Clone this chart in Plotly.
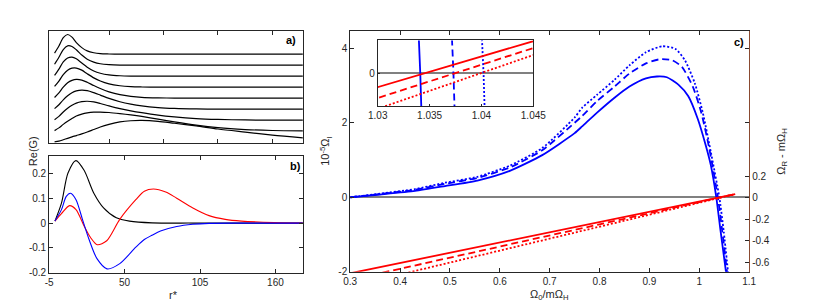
import plotly.graph_objects as go

# ---------------- data ----------------
# panel a: waterfall of G(r*) curves (heights above each baseline)
a_r = [0, 4, 8, 12, 16, 20, 25, 30, 36, 42, 50, 60, 70, 80, 95, 110, 130, 150, 175, 200, 228]
a_offsets = [8, 7, 6, 5, 4, 3, 2, 1, 0]
a_c1 = [0.10, 0.75, 1.50, 1.79, 1.55, 1.05, 0.60, 0.30, 0.13, 0.05, 0.02, 0, 0, 0, 0, 0, 0, 0, 0, 0, 0]
a_c2 = [0.09, 0.72, 1.42, 1.76, 1.70, 1.40, 0.92, 0.55, 0.28, 0.13, 0.05, 0.01, 0, 0, 0, 0, 0, 0, 0, 0, 0]
a_c3 = [0.08, 0.65, 1.30, 1.66, 1.74, 1.58, 1.20, 0.82, 0.48, 0.27, 0.12, 0.04, 0.01, 0, 0, 0, 0, 0, 0, 0, 0]
a_c4 = [0.07, 0.55, 1.15, 1.55, 1.73, 1.74, 1.55, 1.22, 0.85, 0.56, 0.30, 0.13, 0.05, 0.02, 0, 0, 0, 0, 0, 0, 0]
a_c5 = [0.06, 0.48, 1.00, 1.40, 1.62, 1.71, 1.65, 1.45, 1.15, 0.88, 0.58, 0.32, 0.17, 0.08, 0.03, 0.01, 0, 0, 0, 0, 0]
a_c6 = [0.05, 0.40, 0.85, 1.22, 1.50, 1.66, 1.73, 1.68, 1.50, 1.28, 0.98, 0.68, 0.46, 0.30, 0.15, 0.07, 0.02, 0, 0, 0, 0]
a_c7 = [0.05, 0.35, 0.75, 1.08, 1.35, 1.55, 1.68, 1.72, 1.66, 1.52, 1.30, 1.05, 0.85, 0.68, 0.46, 0.30, 0.15, 0.07, 0.02, 0, 0]
a_c8 = [0.05, 0.30, 0.62, 0.90, 1.15, 1.38, 1.55, 1.66, 1.73, 1.74, 1.70, 1.60, 1.48, 1.34, 1.10, 0.85, 0.55, 0.32, 0.15, 0.06, 0.02]
a_c9 = [0.03, 0.10, 0.22, 0.35, 0.48, 0.60, 0.75, 0.92, 1.15, 1.38, 1.62, 1.84, 1.95, 1.98, 1.90, 1.72, 1.48, 1.20, 0.92, 0.65, 0.40]
a_curves = [a_c1, a_c2, a_c3, a_c4, a_c5, a_c6, a_c7, a_c8, a_c9]

# panel b: Re(G) vs r*
b_black_r = [-0.75, 4, 8.7, 14.5, 20.5, 27.6, 34.7, 44, 53.6, 70, 100, 180]
b_black_g = [0.008, 0.08, 0.20, 0.251, 0.212, 0.12, 0.061, 0.021, 0.008, 0.001, 0.0, 0.0]
b_blue_r = [-0.75, 4, 7.5, 10.6, 14.6, 19.3, 24, 29.9, 37.2, 46.5, 58.2, 64.4, 70, 76.2, 88, 99.8, 111.6, 130, 180]
b_blue_g = [0.008, 0.054, 0.107, 0.12, 0.094, 0.015, -0.064, -0.143, -0.184, -0.163, -0.097, -0.066, -0.049, -0.032, -0.014, -0.005, -0.001, 0.0, 0.0]
b_red_r = [-0.75, 4, 9.9, 14.6, 20.5, 25.2, 30.1, 37, 46.5, 58.2, 64.4, 71, 80, 88, 99.8, 111.6, 123.4, 135.2, 158.8, 180]
b_red_g = [0.008, 0.038, 0.07, 0.054, -0.012, -0.058, -0.087, -0.071, 0.015, 0.094, 0.128, 0.137, 0.125, 0.10, 0.061, 0.030, 0.015, 0.008, 0.002, 0.0]

# panel c: 1e-5 Omega_I (blue, left axis) and Omega_R - m Omega_H (red, right axis)
c_solid_x = [0.30, 0.36, 0.43, 0.49, 0.555, 0.62, 0.685, 0.75, 0.765, 0.795, 0.83, 0.86, 0.893, 0.915, 0.935, 0.958, 0.978, 0.997, 1.013, 1.023, 1.0341, 1.0425, 1.054]
c_solid_i = [0.0, 0.075, 0.17, 0.30, 0.45, 0.71, 1.13, 1.72, 1.90, 2.27, 2.67, 2.97, 3.19, 3.24, 3.22, 3.02, 2.71, 2.10, 1.39, 0.87, 0.0, -0.89, -2.05]
c_dash_x = [0.30, 0.36, 0.43, 0.49, 0.555, 0.62, 0.685, 0.75, 0.765, 0.795, 0.83, 0.86, 0.893, 0.92, 0.945, 0.965, 0.987, 1.004, 1.02, 1.0373, 1.046, 1.056]
c_dash_i = [0.0, 0.09, 0.20, 0.36, 0.52, 0.80, 1.26, 2.00, 2.18, 2.58, 2.97, 3.32, 3.59, 3.70, 3.68, 3.50, 2.97, 2.27, 1.31, 0.0, -0.90, -2.05]
c_dot_x = [0.30, 0.36, 0.43, 0.49, 0.555, 0.62, 0.685, 0.75, 0.765, 0.795, 0.83, 0.86, 0.893, 0.926, 0.952, 0.971, 0.991, 1.007, 1.023, 1.0402, 1.049, 1.058]
c_dot_i = [0.0, 0.10, 0.22, 0.39, 0.55, 0.85, 1.32, 2.14, 2.40, 2.75, 3.15, 3.54, 3.89, 4.05, 3.98, 3.68, 3.06, 2.27, 1.22, 0.0, -0.92, -2.05]
c_red_x = [0.30, 1.072]
c_red_solid = [-0.705, 0.036]
c_red_dash = [-0.767, 0.036]
c_red_dot = [-0.829, 0.036]

b_xticks = [-5, 50, 105, 160]
b_yticks = [-0.2, -0.1, 0, 0.1, 0.2]
c_xticks = [0.3, 0.4, 0.5, 0.6, 0.7, 0.8, 0.9, 1.0, 1.1]
c_yticks = [-2, 0, 2, 4]
c_y2ticks = [-0.6, -0.4, -0.2, 0, 0.2]
inset_xticks = [1.03, 1.035, 1.04, 1.045]


def lab(v):
    return "%g" % v


BLUE = "#0000ff"
RED = "#ff0000"
AX = "#262626"
FONT = "Liberation Sans, Arial, sans-serif"
W, H = 830, 302
DASH = "7px,4px"
DOT = "2px,2px"


def px(x):
    return x / W


def py(y):
    return 1 - y / H


fig = go.Figure()

# panel a
for off, hts in zip(a_offsets, a_curves):
    fig.add_trace(go.Scatter(x=a_r, y=[off + h for h in hts], mode="lines",
                             line=dict(color="black", width=1.2, shape="spline", smoothing=0.8),
                             xaxis="x", yaxis="y", showlegend=False, hoverinfo="skip"))

# panel b
for xs, ys, col in [(b_black_r, b_black_g, "black"), (b_red_r, b_red_g, RED), (b_blue_r, b_blue_g, BLUE)]:
    fig.add_trace(go.Scatter(x=xs, y=ys, mode="lines",
                             line=dict(color=col, width=1.1, shape="spline", smoothing=0.8),
                             xaxis="x2", yaxis="y2", showlegend=False, hoverinfo="skip"))

# panel c blue
for xs, ys, d in [(c_solid_x, c_solid_i, "solid"), (c_dash_x, c_dash_i, DASH), (c_dot_x, c_dot_i, DOT)]:
    fig.add_trace(go.Scatter(x=xs, y=ys, mode="lines",
                             line=dict(color=BLUE, width=1.8, dash=d, shape="spline", smoothing=0.6),
                             xaxis="x3", yaxis="y3", showlegend=False, hoverinfo="skip"))
# panel c red (right axis)
for ys, d in [(c_red_solid, "solid"), (c_red_dash, DASH), (c_red_dot, DOT)]:
    fig.add_trace(go.Scatter(x=c_red_x, y=ys, mode="lines",
                             line=dict(color=RED, width=1.8, dash=d),
                             xaxis="x3", yaxis="y4", showlegend=False, hoverinfo="skip"))

# inset
for xs, ys, d in [(c_solid_x, c_solid_i, "solid"), (c_dash_x, c_dash_i, DASH), (c_dot_x, c_dot_i, DOT)]:
    fig.add_trace(go.Scatter(x=xs, y=ys, mode="lines", line=dict(color=BLUE, width=1.8, dash=d),
                             xaxis="x5", yaxis="y5", showlegend=False, hoverinfo="skip"))
for ys, d in [(c_red_solid, "solid"), (c_red_dash, DASH), (c_red_dot, DOT)]:
    fig.add_trace(go.Scatter(x=c_red_x, y=ys, mode="lines", line=dict(color=RED, width=1.8, dash=d),
                             xaxis="x5", yaxis="y5", showlegend=False, hoverinfo="skip"))

common = dict(showline=True, linecolor=AX, linewidth=1, ticks="inside", ticklen=4,
              tickcolor=AX, tickwidth=1, showgrid=False, zeroline=False,
              tickfont=dict(family=FONT, size=10, color=AX))

fig.update_layout(
    width=W, height=H, margin=dict(l=0, r=0, t=0, b=0),
    paper_bgcolor="white", plot_bgcolor="white",
    font=dict(family=FONT, size=10, color=AX),
    xaxis=dict(common, domain=[px(32), px(293)], anchor="y", range=[-5, 228],
               tickvals=[50, 100, 150, 200], showticklabels=False, mirror="ticks"),
    yaxis=dict(common, domain=[py(137), py(23.5)], anchor="x", range=[-0.05, 10.1],
               ticks="", showticklabels=False, mirror=True),
    xaxis2=dict(common, domain=[px(32), px(293)], anchor="y2", range=[-5, 180],
                tickvals=b_xticks, ticktext=[lab(v) for v in b_xticks], mirror="ticks"),
    yaxis2=dict(common, domain=[py(269.3), py(150)], anchor="x2", range=[-0.2, 0.2715],
                tickvals=b_yticks, ticktext=[lab(v) for v in b_yticks], mirror="ticks"),
    xaxis3=dict(common, domain=[px(341.7), px(752)], anchor="y3", range=[0.3, 1.1],
                tickvals=c_xticks, ticktext=[lab(v) for v in c_xticks], mirror="ticks"),
    yaxis3=dict(common, domain=[py(268.3), py(23)], anchor="x3", range=[-2, 4.47],
                tickvals=c_yticks, ticktext=[lab(v) for v in c_yticks], mirror="ticks",
                zeroline=True, zerolinecolor="#808080", zerolinewidth=1.6),
    yaxis4=dict(common, overlaying="y3", anchor="x3", side="right", range=[-0.692, 1.567],
                tickvals=c_y2ticks, ticktext=[lab(v) for v in c_y2ticks], linecolor="#8a4a30"),
    xaxis5=dict(common, domain=[px(370), px(530)], anchor="y5", range=[1.03, 1.045],
                tickvals=inset_xticks, ticktext=[lab(v) for v in inset_xticks], mirror=True, ticklen=2),
    yaxis5=dict(common, domain=[py(100), py(33)], anchor="x5", range=[-0.0103, 0.0103],
                tickvals=[0], ticktext=["0"], mirror=True, ticklen=2,
                zeroline=True, zerolinecolor="#808080", zerolinewidth=1.6),
)

ann = [
    dict(x=px(15), y=py(146), text="Re(G)", textangle=-90, font=dict(size=11)),
    dict(x=px(160), y=py(292), text="r*", font=dict(size=11)),
    dict(x=px(316), y=py(146), text="10<sup>-5</sup>Ω<sub>I</sub>", textangle=-90, font=dict(size=11)),
    dict(x=px(785), y=py(146), text="Ω<sub>R</sub> - mΩ<sub>H</sub>", textangle=-90, font=dict(size=11)),
    dict(x=px(547), y=py(292), text="Ω<sub>0</sub>/mΩ<sub>H</sub>", font=dict(size=11)),
    dict(x=px(281), y=py(33), text="<b>a)</b>", font=dict(size=11, color="black")),
    dict(x=px(285), y=py(161), text="<b>b)</b>", font=dict(size=11, color="black")),
    dict(x=px(742), y=py(35), text="<b>c)</b>", font=dict(size=11, color="black")),
]
for a in ann:
    a.update(xref="paper", yref="paper", showarrow=False, xanchor="center", yanchor="middle")
    a["font"].setdefault("family", FONT)
    a["font"].setdefault("color", AX)
fig.update_layout(annotations=ann)

fig.write_html("out.html")
